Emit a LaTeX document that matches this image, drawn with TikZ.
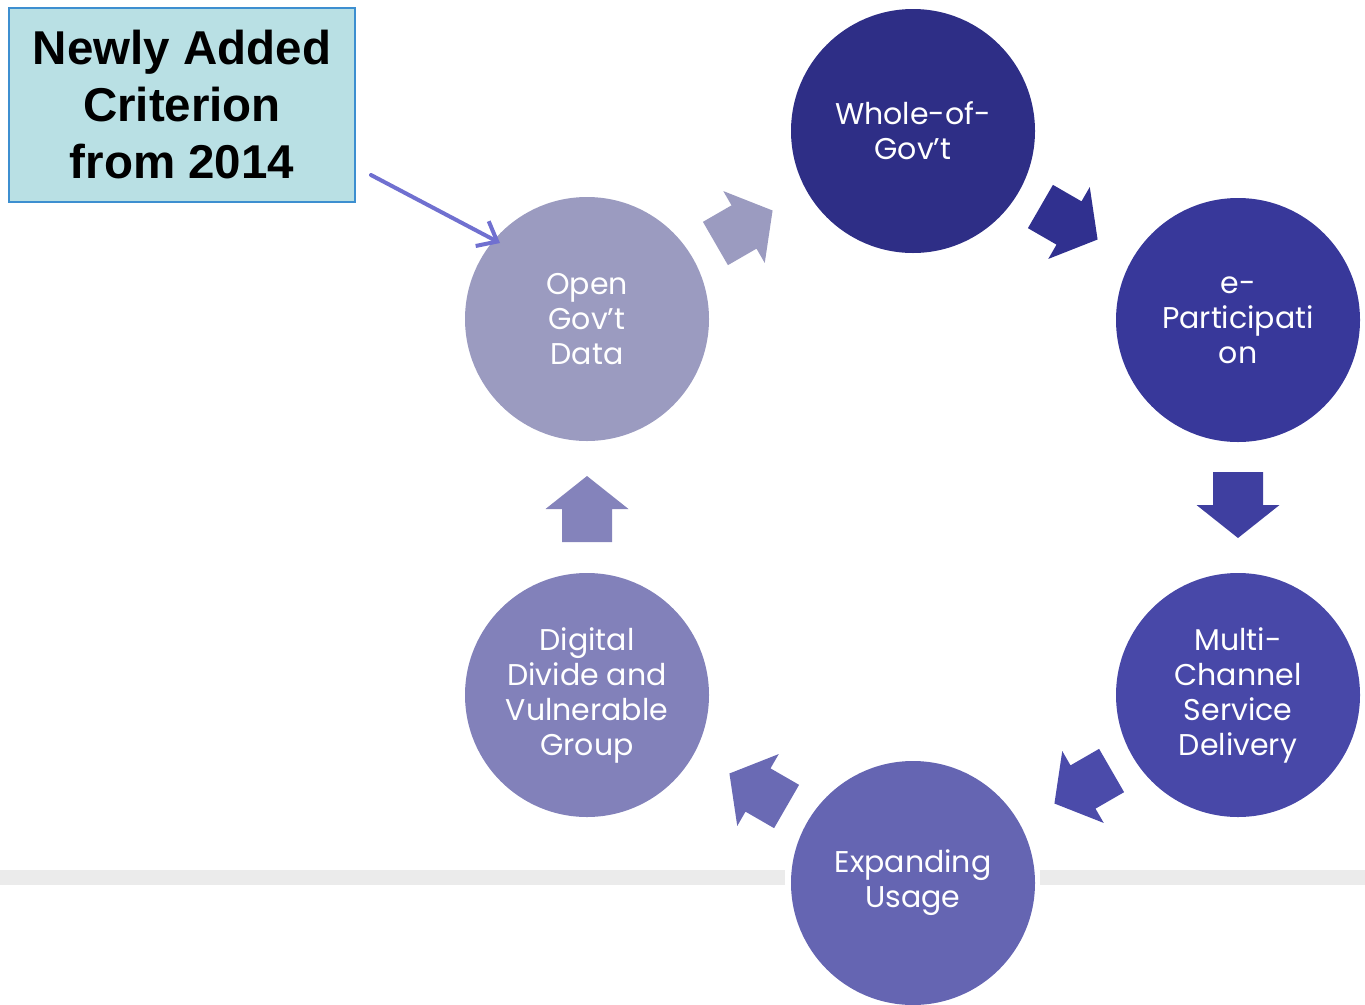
\documentclass[tikz,border=0pt]{standalone}
\usepackage{fontspec}
\setmainfont{Liberation Sans}
\newfontfamily\circfont{Poppins}
\definecolor{cWhole}{HTML}{2E2E86}
\definecolor{cEpart}{HTML}{38389A}
\definecolor{cMulti}{HTML}{4848A8}
\definecolor{cExpand}{HTML}{6565B2}
\definecolor{cDigital}{HTML}{8281BA}
\definecolor{cOpen}{HTML}{9B9BC0}
\definecolor{aOne}{HTML}{9B9BC0}
\definecolor{aTwo}{HTML}{30308F}
\definecolor{aThree}{HTML}{3F3FA0}
\definecolor{aFour}{HTML}{4B4BAA}
\definecolor{aFive}{HTML}{6A6AB4}
\definecolor{aSix}{HTML}{8483BB}
\definecolor{noteFill}{HTML}{B9E0E4}
\definecolor{noteLine}{HTML}{3D8FD0}
\definecolor{annotCol}{HTML}{7070D0}
\definecolor{bandCol}{HTML}{EBEBEB}
\usetikzlibrary{arrows.meta}
\begin{document}
\begin{tikzpicture}[x=1pt,y=1pt,
  stage/.style={circle, minimum size=244pt, inner sep=0pt,
    text=white, align=center, font=\circfont\fontsize{30}{35}\selectfont},
  note/.style={rectangle, minimum width=346pt, minimum height=194pt, fill=noteFill,
    draw=noteLine, line width=1.5pt, align=center, inner sep=0pt,
    font=\bfseries\fontsize{47.5}{57}\selectfont},
  annot/.style={draw=annotCol, line width=4pt, line cap=round,
    -{Straight Barb[length=17pt,width=28pt,line width=4pt]}},
  barrow/.pic={\path[pic actions] (-33,-25) -- (0,-25) -- (0,-41.5) -- (33,0) -- (0,41.5) -- (0,25) -- (-33,25) -- cycle;}
]
\useasboundingbox (0,0) rectangle (1365,-1004);
% background band (interrupted around the bottom circle)
\fill[bandCol] (0,-870) rectangle (785,-885);
\fill[bandCol] (1040,-870) rectangle (1365,-885);
% circles
\node[stage, fill=cWhole] (whole) at (913,-131) {Whole-of-\\Gov’t};
\node[stage, fill=cEpart] (epart) at (1238,-320) {e-\\Participati\\on};
\node[stage, fill=cMulti] (multi) at (1238,-695) {Multi-\\Channel\\Service\\Delivery};
\node[stage, fill=cExpand] (expand) at (913,-883) {Expanding\\Usage};
\node[stage, fill=cDigital] (digital) at (587,-695) {Digital\\Divide and\\Vulnerable\\Group};
\node[stage, fill=cOpen] (open) at (587,-319) {Open\\Gov’t\\Data};
% block arrows
\pic[fill=aOne, rotate=30] at (744,-227) {barrow};
\pic[fill=aTwo, rotate=-30] at (1069,-223) {barrow};
\pic[fill=aThree, rotate=-90] at (1238,-505) {barrow};
\pic[fill=aFour, rotate=-150] at (1083,-787) {barrow};
\pic[fill=aFive, rotate=150] at (758,-790) {barrow};
\pic[fill=aSix, rotate=90] at (587,-509) {barrow};
% note box
\node[note] (notebox) at (182,-105) {Newly Added\\Criterion\\from 2014};
\coordinate (annstart) at (371,-175);
\coordinate (annend) at (500,-243);
\draw[annot] (annstart) -- (annend);
\end{tikzpicture}
\end{document}
